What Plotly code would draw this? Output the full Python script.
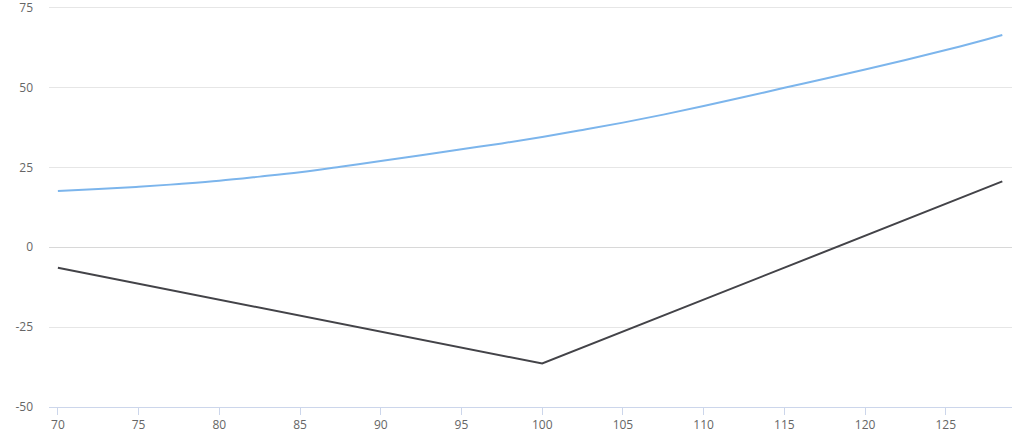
import plotly.graph_objects as go

# underlying price
prix = [70, 72.5, 75, 77.5, 80, 82.5, 85, 87.5, 90, 92.5, 95, 97.5, 100,
        102.5, 105, 107.5, 110, 112.5, 115, 117.5, 120, 122.5, 125, 127.5, 128.5]

# value today (blue curve)
valeur = [17.6, 18.2, 18.9, 19.8, 20.8, 22.1, 23.5, 25.2, 27.0, 28.8, 30.7, 32.5, 34.5,
          36.7, 39.0, 41.5, 44.2, 47.0, 49.9, 52.7, 55.6, 58.6, 61.7, 65.0, 66.4]

# payoff at expiry (dark line)
prix_echeance = [70, 100, 128.5]
gain_echeance = [-6.4, -36.4, 20.6]

y_ticks = [-50, -25, 0, 25, 50, 75]
y_labels = ['-50', '-25', '0', '25', '50', '75']
x_ticks = [70, 75, 80, 85, 90, 95, 100, 105, 110, 115, 120, 125]

fig = go.Figure()
fig.add_trace(go.Scatter(x=prix, y=valeur, mode='lines', hoverinfo='skip',
                         line=dict(color='#7cb5ec', width=2), line_shape='spline'))
fig.add_trace(go.Scatter(x=prix_echeance, y=gain_echeance, mode='lines', hoverinfo='skip',
                         line=dict(color='#434348', width=2)))

fig.update_layout(
    width=1024, height=445,
    margin=dict(l=49, r=12, t=6, b=38),
    paper_bgcolor='white', plot_bgcolor='white',
    showlegend=False,
    font=dict(family='Open Sans, DejaVu Sans, sans-serif', size=12, color='#666666'),
    xaxis=dict(range=[69.45, 129.1], tickvals=x_ticks, showgrid=False, zeroline=False,
               showline=True, linecolor='#ccd6eb', linewidth=1, automargin=False,
               ticks='outside', ticklen=7, tickcolor='#ccd6eb', tickfont=dict(size=12)),
    yaxis=dict(range=[-50, 75.5], tickvals=y_ticks, ticktext=y_labels, automargin=False,
               showgrid=True, gridcolor='#e6e6e6', gridwidth=1,
               zeroline=True, zerolinecolor='#d8d8d8', zerolinewidth=1,
               showline=False, ticks='', ticklabelstandoff=15, ticklabeloverflow='allow',
               tickfont=dict(size=12)),
)

# page body has a default 8px margin, remove it so the chart sits at 0,0
fig.write_html('out.html', config={'displayModeBar': False},
               post_script="document.body.style.margin='0';")
